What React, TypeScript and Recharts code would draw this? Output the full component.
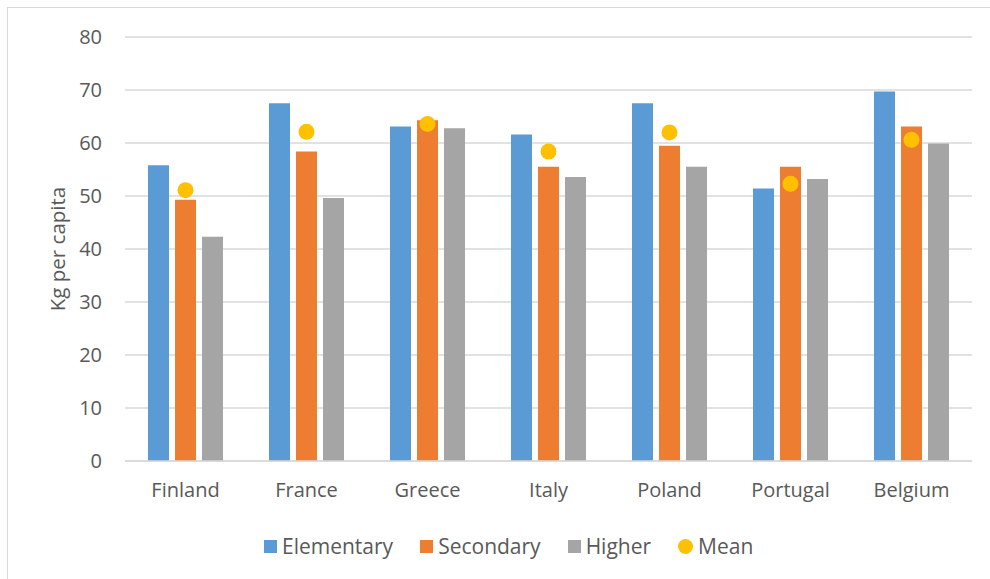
import React from 'react';
import { ComposedChart, Bar, Line, XAxis, YAxis, CartesianGrid, Legend } from 'recharts';

const countries = ['Finland', 'France', 'Greece', 'Italy', 'Poland', 'Portugal', 'Belgium'];
const elementary = [55.8, 67.5, 63.1, 61.6, 67.5, 51.4, 69.7];
const secondary = [49.3, 58.4, 64.3, 55.5, 59.5, 55.5, 63.1];
const higher = [42.3, 49.6, 62.8, 53.6, 55.5, 53.2, 59.9];
const mean = [51.1, 62.1, 63.6, 58.4, 62.0, 52.3, 60.6];
const yTicks = [0, 10, 20, 30, 40, 50, 60, 70, 80];

const series = [
    { key: 'elementary', name: 'Elementary', color: '#5B9BD5', shape: 'square' },
    { key: 'secondary', name: 'Secondary', color: '#ED7D31', shape: 'square' },
    { key: 'higher', name: 'Higher', color: '#A5A5A5', shape: 'square' },
    { key: 'mean', name: 'Mean', color: '#FFC000', shape: 'circle' },
];

const chartData = countries.map((country, i) => ({
    country,
    elementary: elementary[i],
    secondary: secondary[i],
    higher: higher[i],
    mean: mean[i],
}));

const textColor = '#595959';
const gridColor = '#D9D9D9';

const LegendContent = () => (
    <div style={{ display: 'flex', alignItems: 'center', height: 22, fontFamily: '"Open Sans"', fontSize: 21, color: textColor }}>
        {series.map((s) => (
            <div key={s.key} style={{ display: 'flex', alignItems: 'center', marginRight: 27 }}>
                <span
                    style={{
                        display: 'inline-block',
                        width: s.shape === 'circle' ? 15 : 13,
                        height: s.shape === 'circle' ? 15 : 13,
                        borderRadius: s.shape === 'circle' ? '50%' : 0,
                        background: s.color,
                        marginRight: 5,
                    }}
                />
                <span style={{ lineHeight: '22px' }}>{s.name}</span>
            </div>
        ))}
    </div>
);

const App = () => {
    return (
        <div style={{ position: 'fixed', left: 0, top: 0, width: 990, height: 579, background: '#fff', overflow: 'hidden' }}>
            <div style={{ position: 'absolute', left: 7, top: 7, width: 1000, height: 600, border: `1px solid ${gridColor}` }} />
            <div style={{ position: 'absolute', left: 0, top: 0 }}>
                <ComposedChart
                    width={990}
                    height={579}
                    data={chartData}
                    margin={{ top: 37, right: 18, left: 0, bottom: 56 }}
                    barGap={6}
                    style={{ fontFamily: '"Open Sans"' }}
                >
                    <CartesianGrid vertical={false} stroke={gridColor} strokeWidth={1.5} />
                    <XAxis
                        dataKey="country"
                        interval={0}
                        height={40}
                        tickLine={false}
                        tickSize={0}
                        tickMargin={22}
                        axisLine={{ stroke: gridColor, strokeWidth: 1.5 }}
                        tick={{ fill: textColor, fontSize: 20 }}
                    />
                    <YAxis
                        width={125}
                        domain={[0, 80]}
                        ticks={yTicks}
                        axisLine={false}
                        tickLine={false}
                        tickSize={0}
                        tickMargin={23}
                        tick={{ fill: textColor, fontSize: 20 }}
                        label={{
                            value: 'Kg per capita',
                            angle: -90,
                            position: 'insideLeft',
                            offset: 58,
                            style: { textAnchor: 'middle', fill: textColor, fontSize: 20.5 },
                        }}
                    />
                    <Legend
                        content={<LegendContent />}
                        height={22}
                        wrapperStyle={{ left: 264, top: 535, bottom: 'auto', width: 580 }}
                    />
                    {series.slice(0, 3).map((s) => (
                        <Bar key={s.key} dataKey={s.key} name={s.name} fill={s.color} barSize={21} isAnimationActive={false} />
                    ))}
                    <Line
                        dataKey="mean"
                        name="Mean"
                        stroke="none"
                        dot={{ r: 8, fill: '#FFC000', stroke: 'none' }}
                        activeDot={false}
                        isAnimationActive={false}
                    />
                </ComposedChart>
            </div>
        </div>
    );
};

export default App;
